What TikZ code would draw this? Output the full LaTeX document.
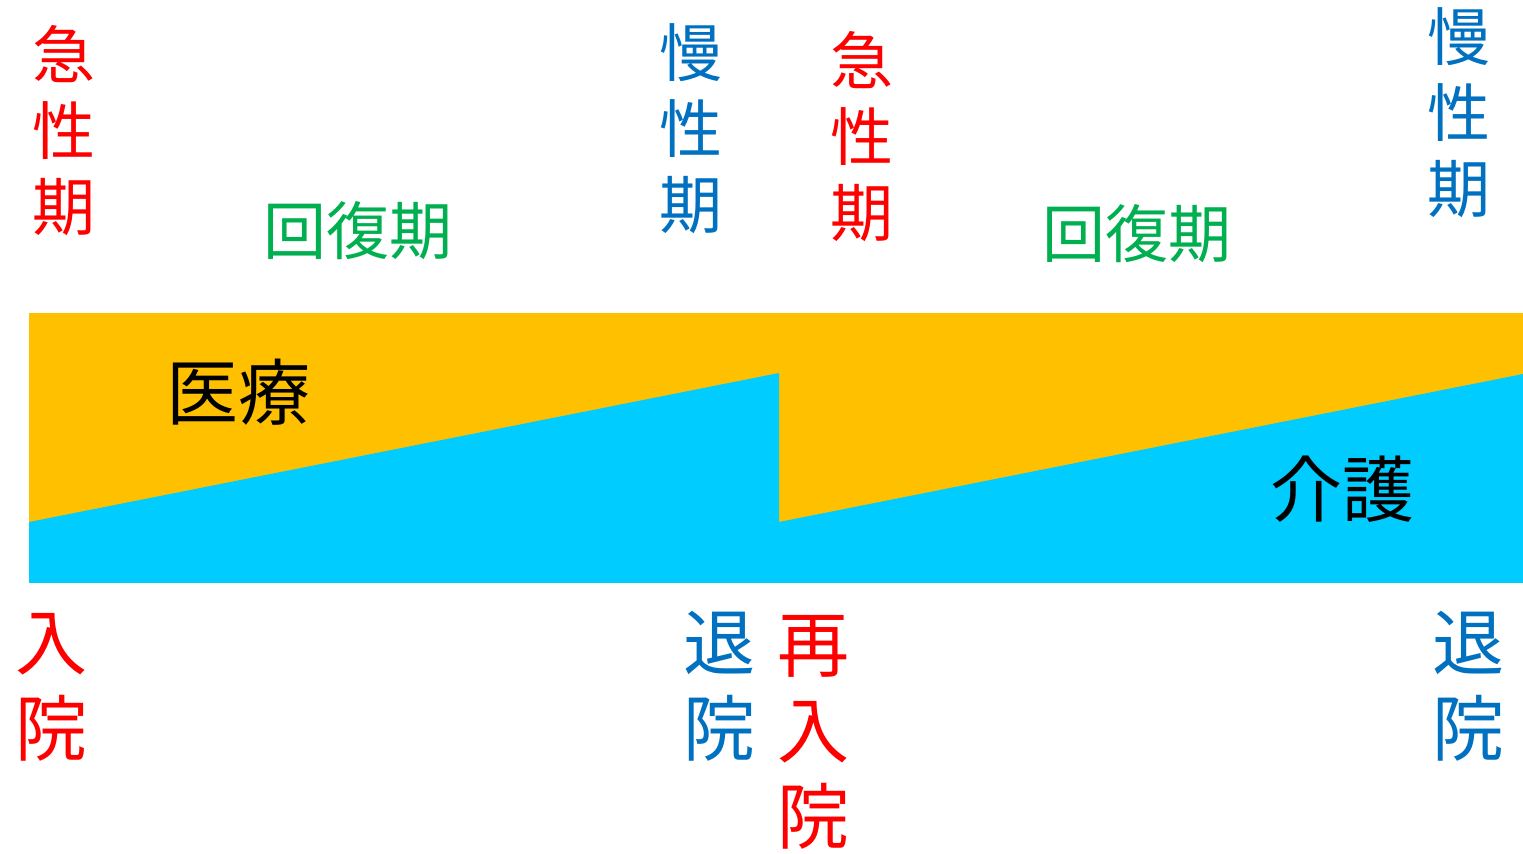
\documentclass[tikz,border=0pt]{standalone}
\usepackage{fontspec}
\setmainfont{Noto Sans CJK JP}
\definecolor{med}{HTML}{FFC000}
\definecolor{care}{HTML}{00CCFF}
\definecolor{acute}{HTML}{FF0000}
\definecolor{chronic}{HTML}{0070C0}
\definecolor{recov}{HTML}{00B050}
\begin{document}
\begin{tikzpicture}[x=0.5pt,y=-0.5pt,
  vlab/.style={align=center,inner sep=0pt,font=\fontsize{31.5}{38}\selectfont},
  blab/.style={align=center,inner sep=0pt,font=\fontsize{36}{43}\selectfont},
  hlab/.style={inner sep=0pt,font=\fontsize{31.5}{38}\selectfont},
  biglab/.style={inner sep=0pt,font=\fontsize{36}{43}\selectfont}]
\useasboundingbox (0,0) rectangle (1523,853);
% bands
\fill[med] (29,313) rectangle (1523,522);
\fill[care] (29,522) rectangle (1523,583);
\fill[care] (29,522) -- (779,373) -- (779,522) -- cycle;
\fill[care] (779,522) -- (1523,374) -- (1523,522) -- cycle;
% area labels
\node[biglab] (iryo) at (238,392) {医療};
\node[biglab] (kaigo) at (1342,489) {介護};
% phase labels (top)
\node[vlab,text=acute] (acute1) at (64,131) {急\\性\\期};
\node[hlab,text=recov] (recov1) at (358,231) {回復期};
\node[vlab,text=chronic] (chron1) at (691,128.5) {慢\\性\\期};
\node[vlab,text=acute] (acute2) at (862,136.5) {急\\性\\期};
\node[hlab,text=recov] (recov2) at (1137,234) {回復期};
\node[vlab,text=chronic] (chron2) at (1459,112.5) {慢\\性\\期};
% events (bottom)
\node[blab,text=acute] (adm1) at (52,687.5) {入\\院};
\node[blab,text=chronic] (dis1) at (719,686.5) {退\\院};
\node[blab,text=acute] (readm) at (813,732.5) {再\\入\\院};
\node[blab,text=chronic] (dis2) at (1468,686.5) {退\\院};
\end{tikzpicture}
\end{document}
